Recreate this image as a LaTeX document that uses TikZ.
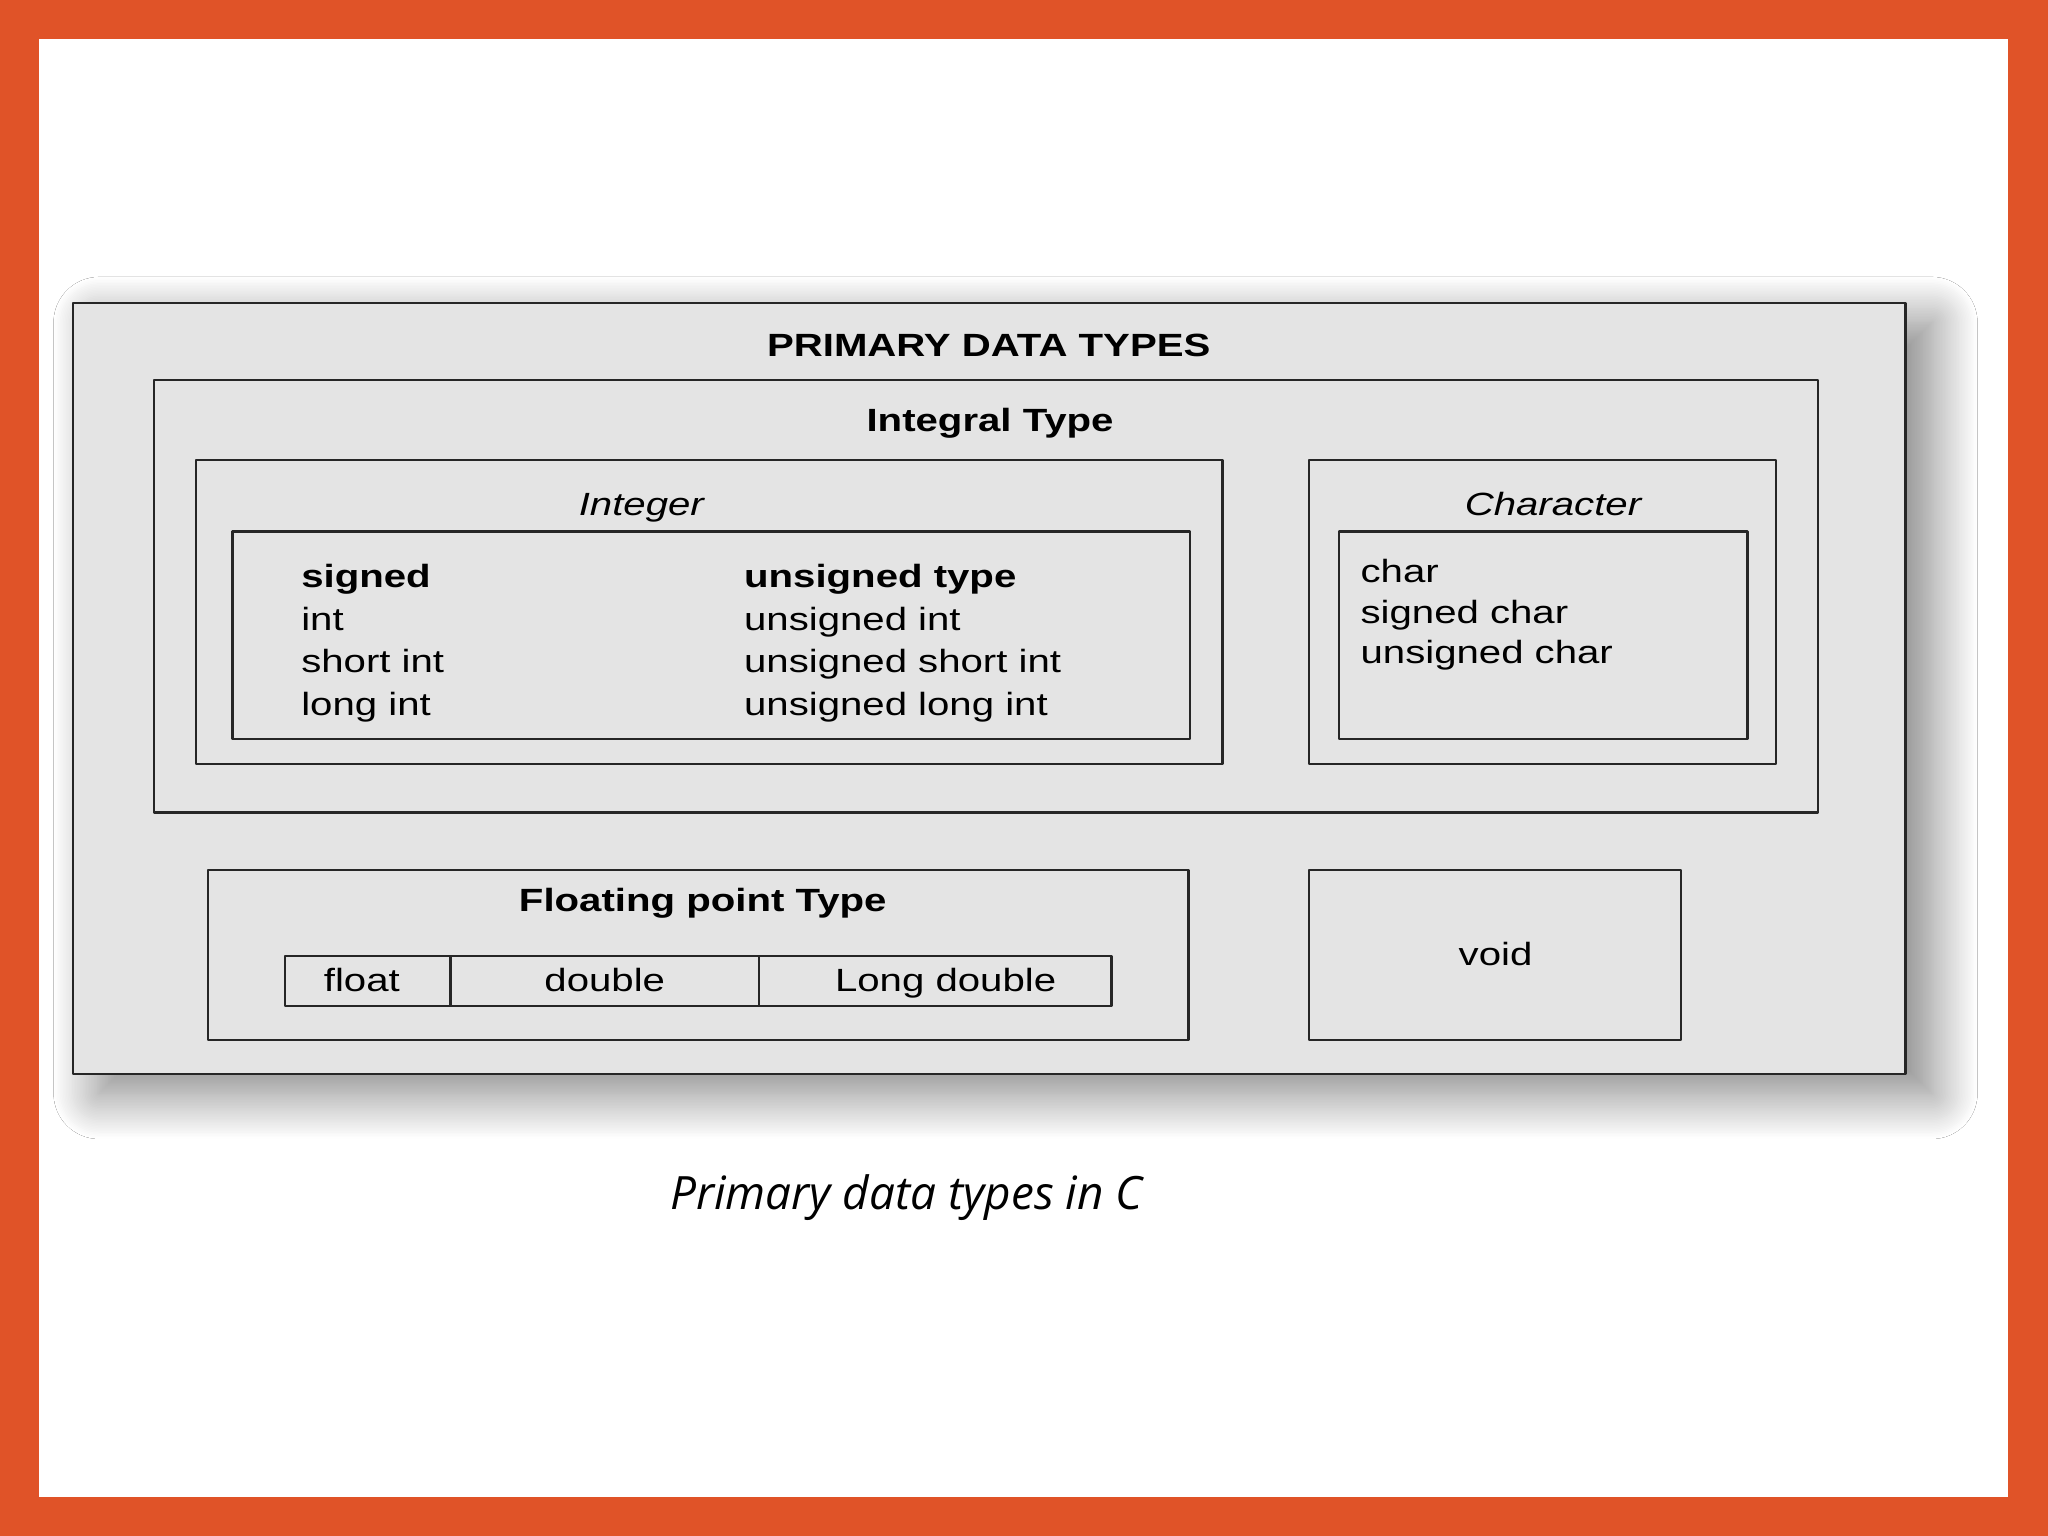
\documentclass[tikz,border=0pt]{standalone}
\usepackage{fontspec}
\setmainfont{Liberation Sans}[FakeStretch=1.25]
\newfontfamily\capfont{Open Sans}
\usetikzlibrary{shadows.blur}
\definecolor{slideorange}{RGB}{224,83,40}
\definecolor{boxgray}{RGB}{228,228,228}

\begin{document}
\begin{tikzpicture}[x=0.1mm, y=-0.1mm, font=\fontsize{7}{9}\selectfont, line join=round]
	\tikzset{box/.style={draw=black!85, line width=0.5pt},
		lbl/.style={inner sep=0pt, anchor=base},
		item/.style={inner sep=0pt, anchor=base west}}
	% slide frame
	\fill[slideorange] (0,0) rectangle (1568,1176);
	\fill[white] (30,30) rectangle (1537,1146);
	\useasboundingbox (0,0) rectangle (1568,1176);
	% outer box
	\draw[box, fill=boxgray, blur shadow={shadow xshift=2mm, shadow yshift=-1.5mm, shadow blur radius=3.5mm, shadow blur steps=30, shadow opacity=50}] (56,232) rectangle (1459,822);
	\node[lbl, font=\fontsize{7}{9}\selectfont\bfseries] (title) at (757,273) {PRIMARY DATA TYPES};
	% integral type
	\draw[box] (118,291) rectangle (1392,622);
	\node[lbl, font=\fontsize{7}{9}\selectfont\bfseries] (integral) at (758,330) {Integral Type};
	\draw[box] (150,352) rectangle (936,585);
	\node[lbl, font=\fontsize{7}{9}\selectfont\itshape] (integer) at (491,395) {Integer};
	\draw[box] (178,407) rectangle (911,566);
	\node[item, font=\fontsize{7}{9}\selectfont\bfseries] (sgn) at (230,450) {signed};
	\node[item, font=\fontsize{7}{9}\selectfont\bfseries] (uns) at (569,450) {unsigned type};
	\foreach \t [count=\i] in {int, short int, long int}
		\node[item] (s\i) at (230,{450+32.5*\i}) {\t};
	\foreach \t [count=\i] in {unsigned int, unsigned short int, unsigned long int}
		\node[item] (u\i) at (569,{450+32.5*\i}) {\t};
	\draw[box] (1002,352) rectangle (1360,585);
	\node[lbl, font=\fontsize{7}{9}\selectfont\itshape] (character) at (1189,395) {Character};
	\draw[box] (1025,407) rectangle (1338,566);
	\foreach \t [count=\i] in {char, signed char, unsigned char}
		\node[item] (c\i) at (1041,{446+31*(\i-1)}) {\t};
	% floating point type
	\draw[box] (159,666) rectangle (910,796);
	\node[lbl, font=\fontsize{7}{9}\selectfont\bfseries] (floating) at (538,698) {Floating point Type};
	\draw[box] (218,732) rectangle (345,770);
	\draw[box] (345,732) rectangle (581,770);
	\draw[box] (581,732) rectangle (851,770);
	\node[lbl] (flt) at (277,759) {float};
	\node[lbl] (dbl) at (463,759) {double};
	\node[lbl] (ldbl) at (724,759) {Long double};
	% void
	\draw[box] (1002,666) rectangle (1287,796);
	\node[lbl] (void) at (1145,739) {void};
	% caption
	\node[lbl, font=\capfont\itshape\fontsize{10}{12}\selectfont] (caption) at (694,926) {Primary data types in C};
\end{tikzpicture}
\end{document}
